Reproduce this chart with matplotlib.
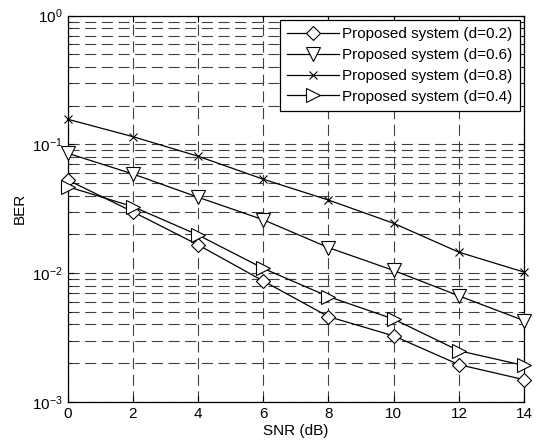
import matplotlib
matplotlib.use('Agg')
import matplotlib.pyplot as plt
from matplotlib.ticker import LogLocator, NullFormatter

plt.rcParams['font.family'] = ['Liberation Sans', 'DejaVu Sans']
plt.rcParams['font.size'] = 11

snr = [0, 2, 4, 6, 8, 10, 12, 14]
ber_d02 = [0.053, 0.030, 0.0166, 0.0087, 0.0046, 0.00326, 0.00195, 0.00149]
ber_d06 = [0.0855, 0.059, 0.0389, 0.026, 0.0158, 0.0105, 0.00667, 0.00428]
ber_d08 = [0.157, 0.115, 0.081, 0.0537, 0.037, 0.0244, 0.01456, 0.0102]
ber_d04 = [0.047, 0.0329, 0.0198, 0.0109, 0.00658, 0.0044, 0.0025, 0.00192]

labels = ['Proposed system (d=0.2)', 'Proposed system (d=0.6)',
          'Proposed system (d=0.8)', 'Proposed system (d=0.4)']

fig = plt.figure(figsize=(5.37, 4.43), dpi=100)
ax = fig.add_axes([0.126, 0.0926, 0.850, 0.872])

style = dict(color='k', ls='-', lw=0.9, mew=0.8, clip_on=False, zorder=3)
ax.semilogy(snr, ber_d02, marker='D', ms=7, mfc='white', label=labels[0], **style)
ax.semilogy(snr, ber_d06, marker='v', ms=10, mfc='white', label=labels[1], **style)
ax.semilogy(snr, ber_d08, marker='x', ms=6, label=labels[2], **style)
ax.semilogy(snr, ber_d04, marker='>', ms=10, mfc='white', label=labels[3], **style)

ax.set_xlim(0, 14)
ax.set_ylim(1e-3, 1e0)
ax.set_xticks(snr)
ax.yaxis.set_major_locator(LogLocator(base=10, numticks=10))
ax.yaxis.set_minor_locator(LogLocator(base=10, subs=range(2, 10), numticks=10))
ax.yaxis.set_minor_formatter(NullFormatter())

ax.grid(True, which='major', ls=(0, (10, 5)), color='0.25', lw=0.8)
ax.grid(True, which='minor', axis='y', ls=(0, (10, 5)), color='0.25', lw=0.8)
ax.tick_params(which='both', direction='in', top=True, right=True)
ax.tick_params(which='major', length=4)
ax.tick_params(which='minor', length=2)
for s in ax.spines.values():
    s.set_linewidth(0.9)

ax.set_xlabel('SNR (dB)', labelpad=2)
ax.set_ylabel('BER', labelpad=4)

leg = ax.legend(loc='upper right', fancybox=False, framealpha=1, edgecolor='k',
                borderaxespad=0.3, handlelength=3.4, handletextpad=0.25,
                labelspacing=0.45, borderpad=0.45)
leg.get_frame().set_linewidth(0.9)

fig.savefig('out.png', dpi=100)
